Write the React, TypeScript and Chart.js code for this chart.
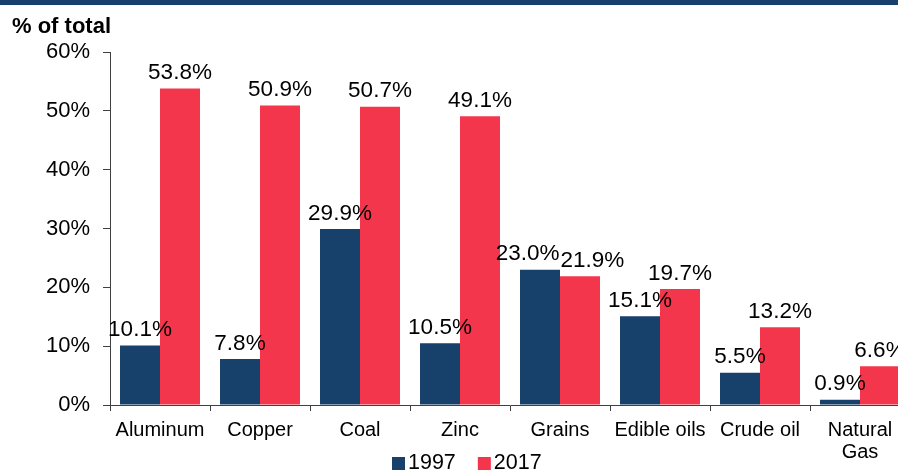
import React, { useEffect, useRef } from "react";
import { Chart, registerables } from "chart.js";

Chart.register(...registerables);

const FONT = '"Liberation Sans", Arial, Helvetica, sans-serif';

const categories: (string | string[])[] = [
  "Aluminum",
  "Copper",
  "Coal",
  "Zinc",
  "Grains",
  "Edible oils",
  "Crude oil",
  ["Natural", "Gas"],
];
const values1997 = [10.1, 7.8, 29.9, 10.5, 23.0, 15.1, 5.5, 0.9];
const values2017 = [53.8, 50.9, 50.7, 49.1, 21.9, 19.7, 13.2, 6.6];
const seriesNames = ["1997", "2017"];
const seriesColors = ["#17416B", "#F4364C"];
const yMin = 0;
const yMax = 60;
const yStep = 10;
const yAxisTitle = "% of total";

const AXIS_COLOR = "#404040";
const TEXT_COLOR = "#000000";
const LABEL_SIZE = 22.5;

const dataLabelPlugin = {
  id: "dataLabels",
  afterDatasetsDraw(chart: any) {
    const ctx = chart.ctx;
    ctx.save();
    ctx.font = `${LABEL_SIZE}px ${FONT}`;
    ctx.fillStyle = TEXT_COLOR;
    ctx.textAlign = "center";
    ctx.textBaseline = "alphabetic";
    const metas = chart.data.datasets.map((_: any, i: number) => chart.getDatasetMeta(i));
    const n = chart.data.labels.length;
    for (let j = 0; j < n; j++) {
      const items = chart.data.datasets.map((ds: any, i: number) => {
        const bar = metas[i].data[j];
        const text = (ds.data[j] as number).toFixed(1) + "%";
        return { text, x: bar.x, y: bar.y - 9.5, w: ctx.measureText(text).width };
      });
      // push apart neighbouring labels that collide
      for (let k = 0; k < items.length - 1; k++) {
        const a = items[k];
        const b = items[k + 1];
        if (Math.abs(a.y - b.y) < LABEL_SIZE) {
          const overlap = a.x + a.w / 2 - (b.x - b.w / 2) + 1;
          if (overlap > 0) {
            a.x -= overlap / 2;
            b.x += overlap / 2;
          }
        }
      }
      items.forEach((it: any) => ctx.fillText(it.text, it.x, it.y));
    }
    ctx.restore();
  },
};

const titleAndLegendPlugin = {
  id: "titleAndLegend",
  afterDraw(chart: any) {
    const ctx = chart.ctx;
    ctx.save();
    ctx.font = `bold 22px ${FONT}`;
    ctx.fillStyle = TEXT_COLOR;
    ctx.textAlign = "left";
    ctx.textBaseline = "alphabetic";
    ctx.fillText(yAxisTitle, 12, 33);

    ctx.font = `21.5px ${FONT}`;
    ctx.textBaseline = "middle";
    const box = 13;
    const cy = 463.5;
    let x = 392;
    chart.data.datasets.forEach((ds: any) => {
      ctx.fillStyle = ds.backgroundColor;
      ctx.fillRect(x, cy - box / 2, box, box);
      x += box + 3;
      ctx.fillStyle = TEXT_COLOR;
      ctx.fillText(ds.label, x, cy);
      x += ctx.measureText(ds.label).width + 22;
    });
    ctx.restore();
  },
};

export default function App() {
  const canvasRef = useRef<HTMLCanvasElement | null>(null);

  useEffect(() => {
    const canvas = canvasRef.current;
    if (!canvas) return;
    const chart = new Chart(canvas, {
      type: "bar",
      data: {
        labels: categories,
        datasets: [
          {
            label: seriesNames[0],
            data: values1997,
            backgroundColor: seriesColors[0],
            borderWidth: 0,
            barPercentage: 1,
            categoryPercentage: 0.8,
          },
          {
            label: seriesNames[1],
            data: values2017,
            backgroundColor: seriesColors[1],
            borderWidth: 0,
            barPercentage: 1,
            categoryPercentage: 0.8,
          },
        ],
      },
      options: {
        responsive: false,
        animation: false,
        devicePixelRatio: 1,
        layout: { padding: { top: 52, left: 0, right: 0, bottom: 0 } },
        plugins: {
          legend: { display: false },
          title: { display: false },
          tooltip: { enabled: false },
        },
        scales: {
          x: {
            offset: true,
            grid: {
              display: true,
              drawOnChartArea: false,
              drawTicks: true,
              tickLength: 6,
              color: AXIS_COLOR,
              offset: true,
            },
            border: { display: true, color: AXIS_COLOR, width: 1 },
            ticks: {
              color: TEXT_COLOR,
              font: { family: FONT, size: 20, lineHeight: 1.12 },
              padding: 8,
              maxRotation: 0,
              autoSkip: false,
            },
            afterFit(scale: any) {
              scale.height = 68;
            },
          },
          y: {
            min: yMin,
            max: yMax,
            grid: {
              display: true,
              drawOnChartArea: false,
              drawTicks: true,
              tickLength: 7,
              color: AXIS_COLOR,
            },
            border: { display: true, color: AXIS_COLOR, width: 1 },
            ticks: {
              stepSize: yStep,
              color: TEXT_COLOR,
              font: { family: FONT, size: 22 },
              padding: 13,
              callback: (v: any) => `${v}%`,
            },
            afterFit(scale: any) {
              scale.width = 110;
            },
          },
        },
      },
      plugins: [dataLabelPlugin, titleAndLegendPlugin],
    });
    return () => chart.destroy();
  }, []);

  return (
    <div
      style={{
        position: "fixed",
        left: 0,
        top: 0,
        width: 898,
        height: 473,
        overflow: "hidden",
        background: "#ffffff",
      }}
    >
      <canvas
        ref={canvasRef}
        width={910}
        height={473}
        style={{ position: "absolute", left: 0, top: 0, width: 910, height: 473 }}
      />
      <div
        style={{
          position: "absolute",
          left: 0,
          top: 0,
          width: 898,
          height: 5,
          background: "#17416B",
        }}
      />
    </div>
  );
}
